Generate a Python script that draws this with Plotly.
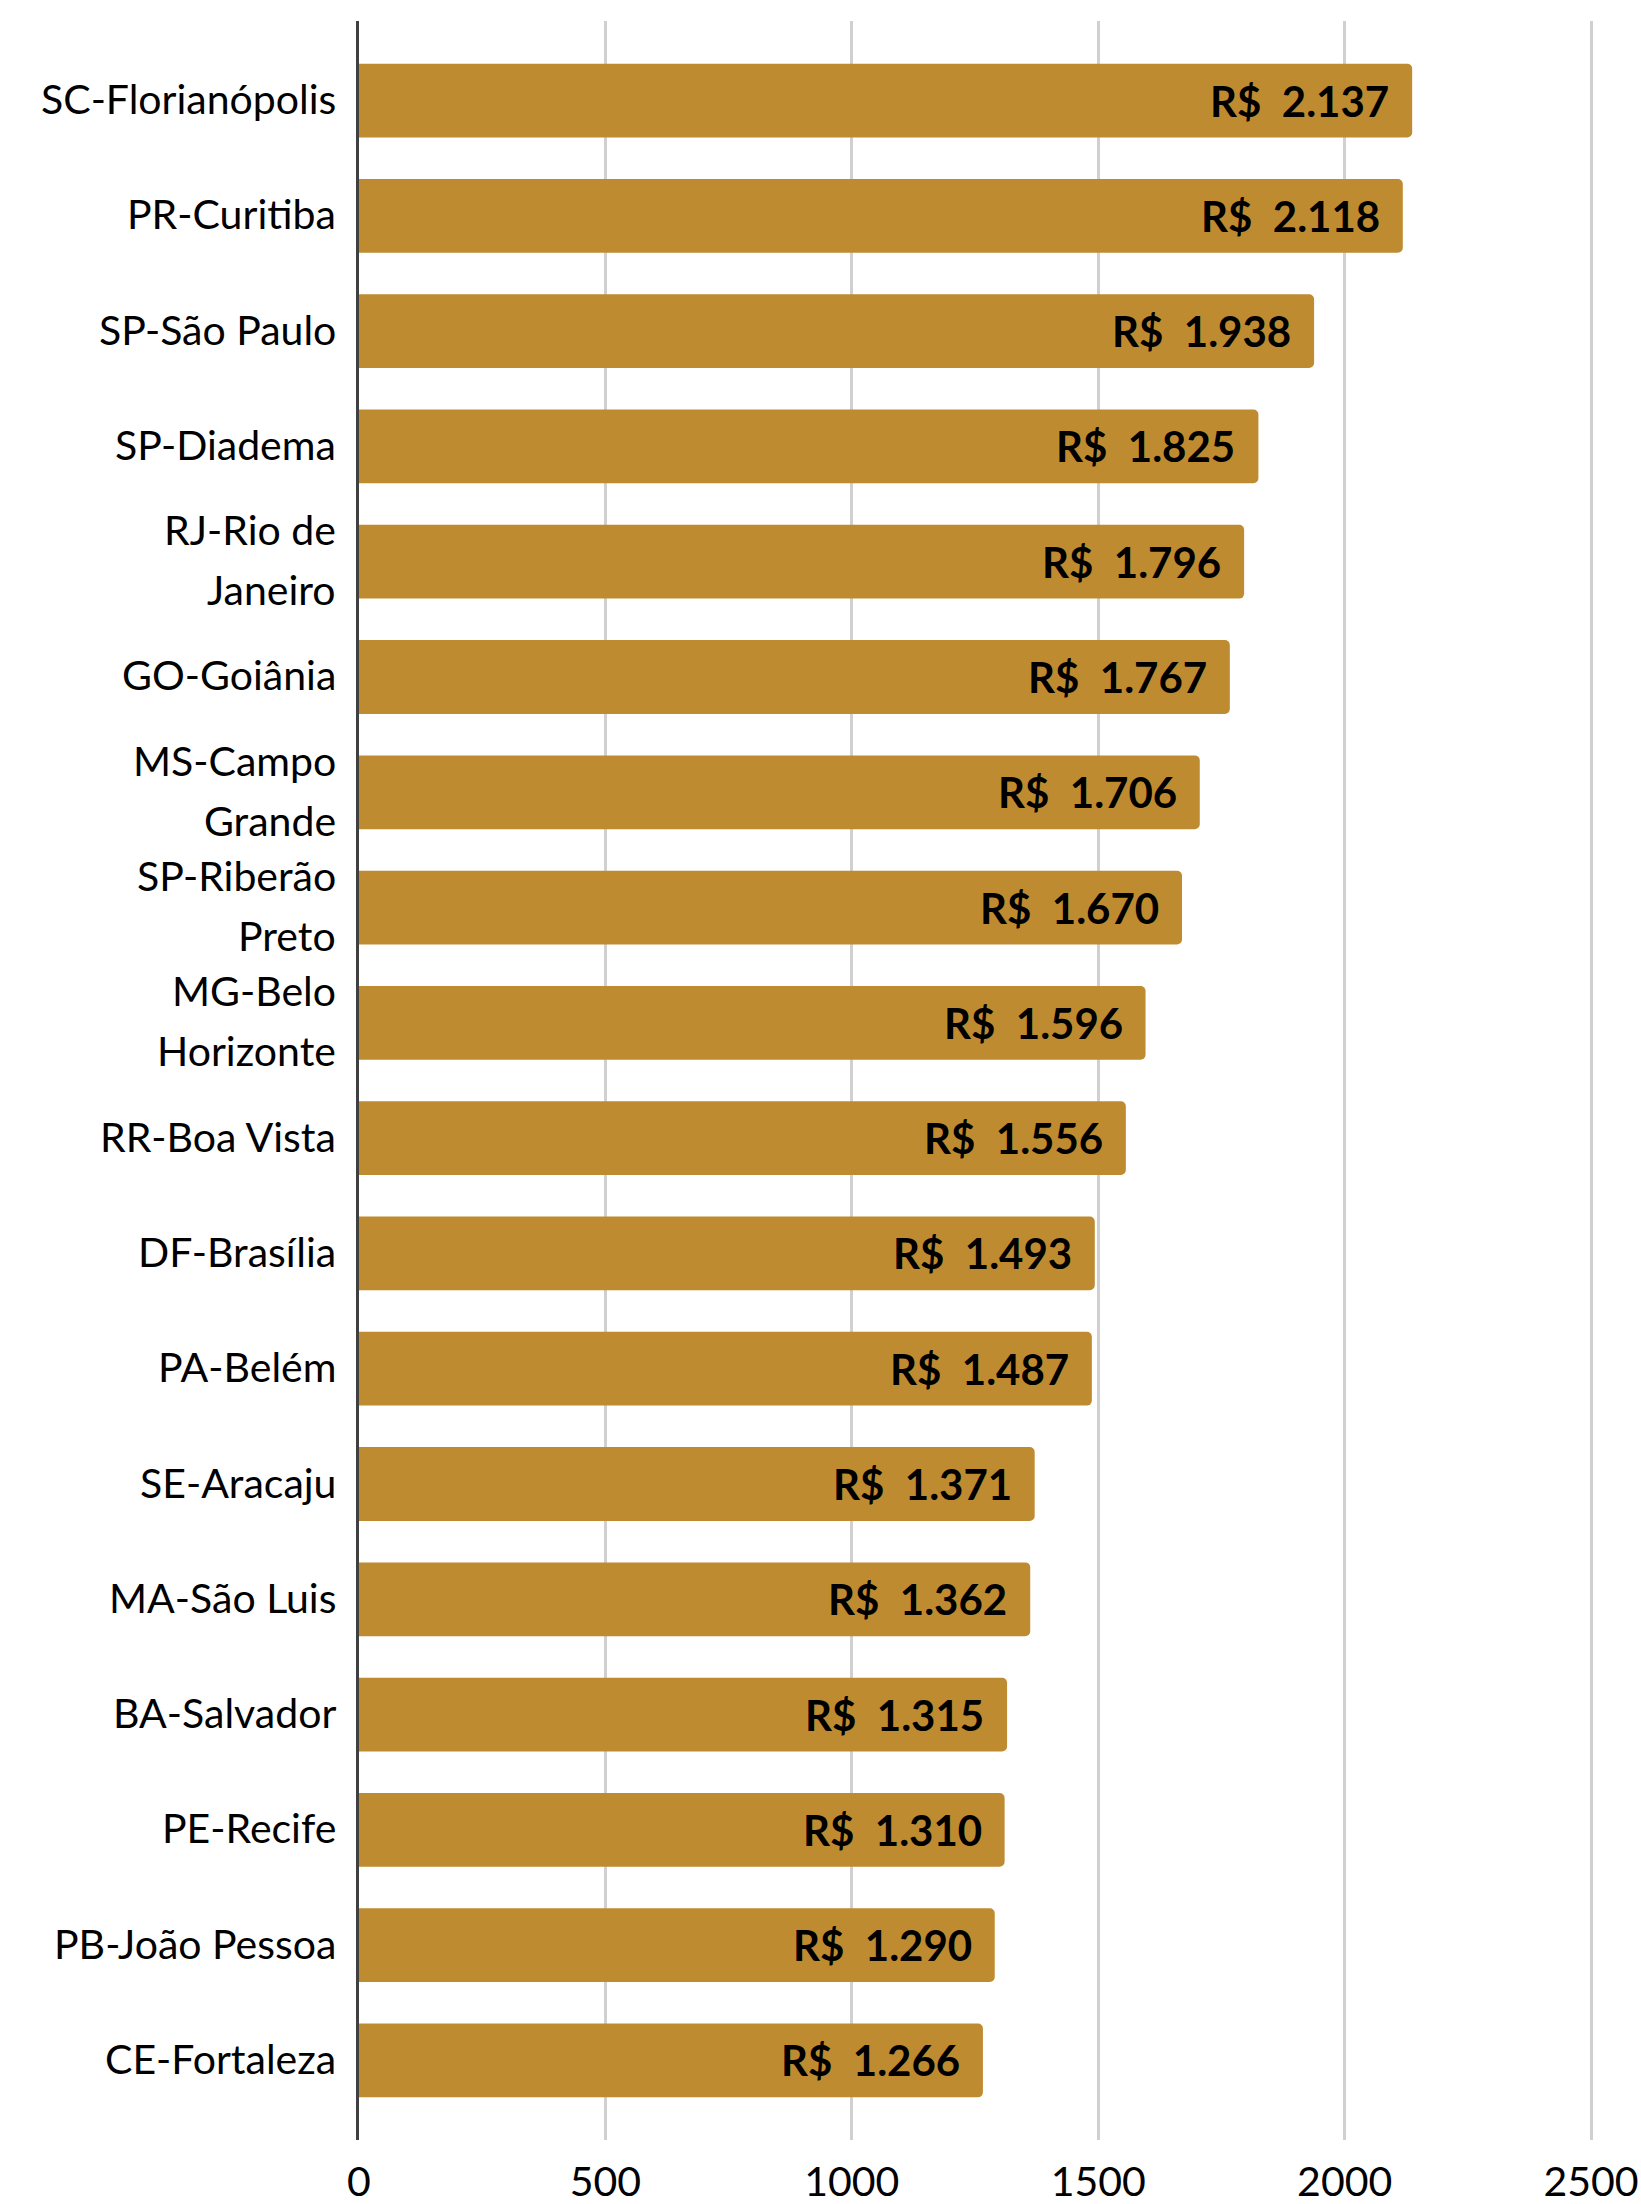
import plotly.graph_objects as go

# Average value per capital, from highest to lowest
cities = [
    "SC-Florianópolis", "PR-Curitiba", "SP-São Paulo", "SP-Diadema",
    "RJ-Rio de Janeiro", "GO-Goiânia", "MS-Campo Grande", "SP-Riberão Preto",
    "MG-Belo Horizonte", "RR-Boa Vista", "DF-Brasília", "PA-Belém",
    "SE-Aracaju", "MA-São Luis", "BA-Salvador", "PE-Recife",
    "PB-João Pessoa", "CE-Fortaleza",
]
# How each axis label is broken into lines
label_lines = [
    ["SC-Florianópolis"], ["PR-Curitiba"], ["SP-São Paulo"], ["SP-Diadema"],
    ["RJ-Rio de", "Janeiro"], ["GO-Goiânia"], ["MS-Campo", "Grande"],
    ["SP-Riberão", "Preto"], ["MG-Belo", "Horizonte"], ["RR-Boa Vista"],
    ["DF-Brasília"], ["PA-Belém"], ["SE-Aracaju"], ["MA-São Luis"],
    ["BA-Salvador"], ["PE-Recife"], ["PB-João Pessoa"], ["CE-Fortaleza"],
]
values = [2137, 2118, 1938, 1825, 1796, 1767, 1706, 1670, 1596,
          1556, 1493, 1487, 1371, 1362, 1315, 1310, 1290, 1266]
x_ticks = [0, 500, 1000, 1500, 2000, 2500]

BAR_COLOR = "#BF8B30"
FONT = "Lato"
LABEL_SIZE = 41
VALUE_SIZE = 42


def brl(v):
    return "R$\u00a0\u00a0" + f"{v:,}".replace(",", ".")


fig = go.Figure(
    go.Bar(
        x=values,
        y=cities,
        orientation="h",
        width=0.64,
        marker=dict(color=BAR_COLOR, line=dict(width=0), cornerradius=5),
        hoverinfo="skip",
    )
)

annotations = []
# value labels at the end of each bar
for city, v in zip(cities, values):
    annotations.append(dict(
        x=v, y=city, xref="x", yref="y", text=brl(v),
        xanchor="right", yanchor="middle", xshift=-21, showarrow=False,
        font=dict(family=FONT, size=VALUE_SIZE, color="#000000", weight="bold"),
    ))
# category labels left of the axis
LINE_STEP = 60
for city, lines in zip(cities, label_lines):
    n = len(lines)
    for i, line in enumerate(lines):
        offset = ((n - 1) / 2 - i) * LINE_STEP
        annotations.append(dict(
            x=0, y=city, xref="paper", yref="y", text=line,
            xanchor="right", yanchor="middle", xshift=-21, yshift=offset + 2,
            showarrow=False,
            font=dict(family=FONT, size=LABEL_SIZE, color="#000000"),
        ))

fig.update_layout(
    width=1641, height=2204,
    margin=dict(l=359, r=45, t=21, b=64),
    paper_bgcolor="white", plot_bgcolor="white",
    showlegend=False,
    annotations=annotations,
    font=dict(family=FONT, size=LABEL_SIZE, color="#000000"),
    xaxis=dict(
        range=[0, 2510], tickvals=x_ticks, ticktext=[str(t) for t in x_ticks],
        showgrid=True, gridcolor="#D0D0D0", gridwidth=3,
        zeroline=False, showline=False, ticks="",
        ticklabelstandoff=14, automargin=False,
        tickfont=dict(family=FONT, size=LABEL_SIZE, color="#000000"),
    ),
    yaxis=dict(
        type="category", categoryorder="array", categoryarray=cities,
        range=[17.69, -0.69], showticklabels=False, showgrid=False,
        zeroline=False, showline=True, linecolor="#404040", linewidth=3,
        ticks="", automargin=False,
    ),
)

fig.write_html("out.html")
